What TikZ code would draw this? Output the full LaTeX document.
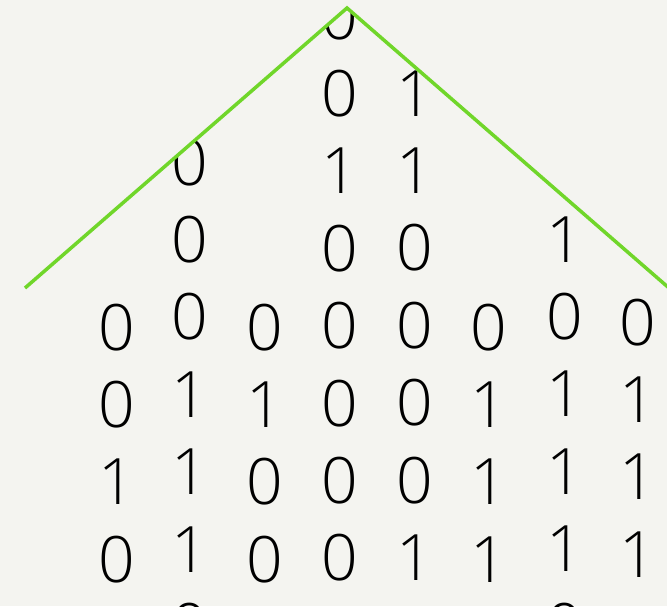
\documentclass[tikz,border=0pt]{standalone}
\usepackage{fontspec}
\setmainfont{Open Sans}[UprightFont=* Light]
\usetikzlibrary{positioning,calc}

\definecolor{paper}{RGB}{244,244,240}
\definecolor{roofgreen}{RGB}{112,214,42}

\begin{document}
\begin{tikzpicture}[x=1pt,y=-1pt,
        bit/.style={font=\fontsize{64}{64}\selectfont,inner sep=0pt,text height=46pt,text depth=0pt,minimum height=77pt},
        roof/.style={draw=roofgreen,line width=3.5pt}]
        \useasboundingbox[fill=paper] (0,0) rectangle (667,606);
        \coordinate (eaveL) at (25,288);
        \coordinate (ridge) at (347,8);
        \coordinate (eaveR) at (669,288);
        \coordinate (footL) at (25,620);
        \coordinate (footR) at (680,620);

        \begin{scope}
        \clip (eaveL) -- (ridge) -- (eaveR) -- (footR) -- (footL) -- cycle;
        % column 1
        \node[bit] (col1-bit1) at (117,327) {0};
        \node[bit,anchor=north] (col1-bit2) at ($(col1-bit1.south)$) {0};
        \node[bit,anchor=north] (col1-bit3) at ($(col1-bit2.south)$) {1};
        \node[bit,anchor=north] (col1-bit4) at ($(col1-bit3.south)$) {0};
        % column 2
        \node[bit] (col2-bit1) at (190,162) {0};
        \node[bit,anchor=north] (col2-bit2) at ($(col2-bit1.south)$) {0};
        \node[bit,anchor=north] (col2-bit3) at ($(col2-bit2.south)$) {0};
        \node[bit,anchor=north] (col2-bit4) at ($(col2-bit3.south)$) {1};
        \node[bit,anchor=north] (col2-bit5) at ($(col2-bit4.south)$) {1};
        \node[bit,anchor=north] (col2-bit6) at ($(col2-bit5.south)$) {1};
        \node[bit,anchor=north] (col2-bit7) at ($(col2-bit6.south)$) {0};
        % column 3
        \node[bit] (col3-bit1) at (265,327) {0};
        \node[bit,anchor=north] (col3-bit2) at ($(col3-bit1.south)$) {1};
        \node[bit,anchor=north] (col3-bit3) at ($(col3-bit2.south)$) {0};
        \node[bit,anchor=north] (col3-bit4) at ($(col3-bit3.south)$) {0};
        % column 4
        \node[bit] (col4-bit1) at (340,16) {0};
        \node[bit,anchor=north] (col4-bit2) at ($(col4-bit1.south)$) {0};
        \node[bit,anchor=north] (col4-bit3) at ($(col4-bit2.south)$) {1};
        \node[bit,anchor=north] (col4-bit4) at ($(col4-bit3.south)$) {0};
        \node[bit,anchor=north] (col4-bit5) at ($(col4-bit4.south)$) {0};
        \node[bit,anchor=north] (col4-bit6) at ($(col4-bit5.south)$) {0};
        \node[bit,anchor=north] (col4-bit7) at ($(col4-bit6.south)$) {0};
        \node[bit,anchor=north] (col4-bit8) at ($(col4-bit7.south)$) {0};
        % column 5
        \node[bit] (col5-bit1) at (415,93) {1};
        \node[bit,anchor=north] (col5-bit2) at ($(col5-bit1.south)$) {1};
        \node[bit,anchor=north] (col5-bit3) at ($(col5-bit2.south)$) {0};
        \node[bit,anchor=north] (col5-bit4) at ($(col5-bit3.south)$) {0};
        \node[bit,anchor=north] (col5-bit5) at ($(col5-bit4.south)$) {0};
        \node[bit,anchor=north] (col5-bit6) at ($(col5-bit5.south)$) {0};
        \node[bit,anchor=north] (col5-bit7) at ($(col5-bit6.south)$) {1};
        % column 6
        \node[bit] (col6-bit1) at (489,327) {0};
        \node[bit,anchor=north] (col6-bit2) at ($(col6-bit1.south)$) {1};
        \node[bit,anchor=north] (col6-bit3) at ($(col6-bit2.south)$) {1};
        \node[bit,anchor=north] (col6-bit4) at ($(col6-bit3.south)$) {1};
        % column 7
        \node[bit] (col7-bit1) at (565,239) {1};
        \node[bit,anchor=north] (col7-bit2) at ($(col7-bit1.south)$) {0};
        \node[bit,anchor=north] (col7-bit3) at ($(col7-bit2.south)$) {1};
        \node[bit,anchor=north] (col7-bit4) at ($(col7-bit3.south)$) {1};
        \node[bit,anchor=north] (col7-bit5) at ($(col7-bit4.south)$) {1};
        \node[bit,anchor=north] (col7-bit6) at ($(col7-bit5.south)$) {0};
        % column 8
        \node[bit] (col8-bit1) at (638,322) {0};
        \node[bit,anchor=north] (col8-bit2) at ($(col8-bit1.south)$) {1};
        \node[bit,anchor=north] (col8-bit3) at ($(col8-bit2.south)$) {1};
        \node[bit,anchor=north] (col8-bit4) at ($(col8-bit3.south)$) {1};
        \end{scope}

        \draw[roof] (eaveL) -- (ridge) -- (eaveR);
\end{tikzpicture}
\end{document}
